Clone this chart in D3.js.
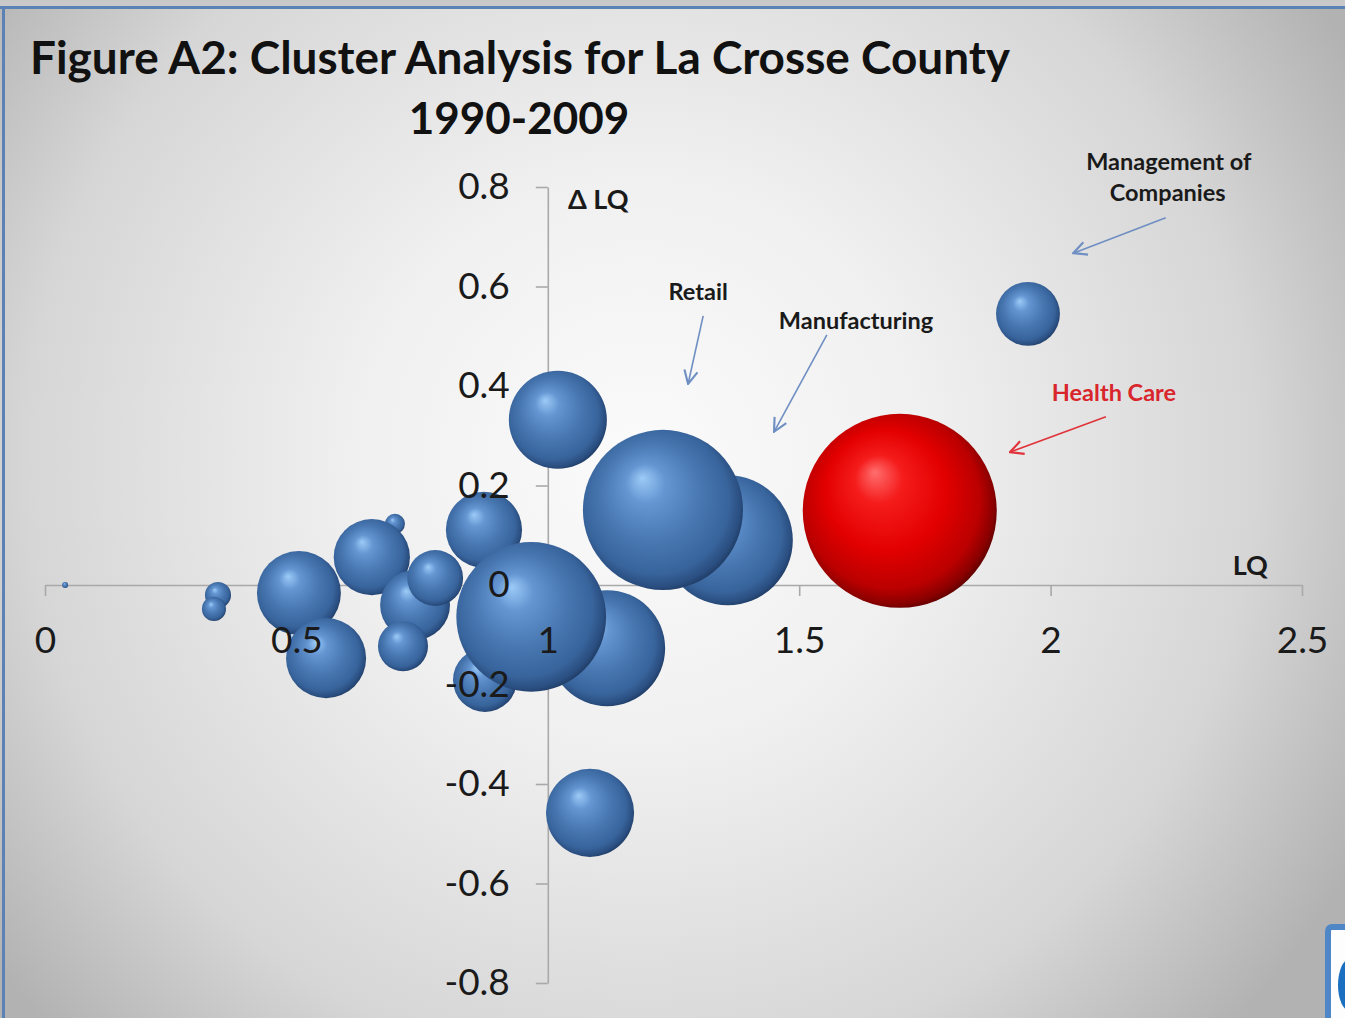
<!DOCTYPE html>
<html lang="en">
  <head>
    <meta charset="UTF-8" />
    <title>Figure A2: Cluster Analysis for La Crosse County</title>
    <script src="https://d3js.org/d3.v7.min.js"></script>
    <style>
      html, body { margin: 0; padding: 0; background: #c8c8c8; }
      svg { display: block; font-family: Lato, "Open Sans", sans-serif; }
    </style>
  </head>
  <body>
    <svg></svg>
    <script>
      let width = 1345,
        height = 1018;

      // bubbles: LQ (x), change in LQ (y), bubble size (area), colour
      let lq = [1.118, 0.875, 0.873, 0.967, 0.04, 0.344, 0.336, 0.505, 0.559, 0.696, 0.65, 0.736, 0.776, 0.712, 1.02, 1.358, 1.229, 1.70, 1.955, 1.084];
      let dlq = [-0.127, -0.191, 0.111, -0.064, 0.0, -0.02, -0.048, -0.016, -0.147, 0.123, 0.056, -0.04, 0.014, -0.123, 0.332, 0.09, 0.151, 0.149, 0.545, -0.458];
      let sizes = [3360, 1020, 1450, 5600, 9, 170, 145, 1760, 1600, 100, 1450, 1220, 780, 625, 2400, 4220, 6400, 9400, 1020, 1940];
      let colors = ["blue", "blue", "blue", "blue", "blue", "blue", "blue", "blue", "blue", "blue", "blue", "blue", "blue", "blue", "blue", "blue", "blue", "red", "blue", "blue"];

      let xTicks = [0, 0.5, 1, 1.5, 2, 2.5];
      let yTicks = [-0.8, -0.6, -0.4, -0.2, 0, 0.2, 0.4, 0.6, 0.8];

      // annotations (data units)
      let noteText = ["Retail", "Manufacturing", "Management of", "Companies", "Health Care"];
      let noteX = [1.299, 1.613, 2.235, 2.233, 2.126];
      let noteY = [0.589, 0.531, 0.85, 0.788, 0.386];
      let noteColor = ["#1a1a1a", "#1a1a1a", "#1a1a1a", "#1a1a1a", "#d9252c"];
      let arrowFrom = [[1.309, 0.541], [1.555, 0.503], [2.229, 0.738], [2.11, 0.338]];
      let arrowTo = [[1.279, 0.404], [1.45, 0.308], [2.045, 0.667], [1.919, 0.267]];
      let arrowColor = ["#6f8fc2", "#6f8fc2", "#6f8fc2", "#e0333a"];

      let svg = d3.select("svg").attr("width", width).attr("height", height);
      let defs = svg.append("defs");

      let bg = defs
        .append("radialGradient")
        .attr("id", "bg")
        .attr("gradientUnits", "userSpaceOnUse")
        .attr("cx", 640)
        .attr("cy", 460)
        .attr("r", 820);
      [[0, "#fbfbfb"], [0.35, "#f0f0f0"], [0.75, "#d6d6d6"], [1, "#b2b2b2"]].forEach((s) =>
        bg.append("stop").attr("offset", s[0]).attr("stop-color", s[1])
      );

      function ball(id, stops) {
        let g = defs
          .append("radialGradient")
          .attr("id", id)
          .attr("cx", 0.47)
          .attr("cy", 0.47)
          .attr("r", 0.56)
          .attr("fx", 0.37)
          .attr("fy", 0.3);
        stops.forEach((s) => g.append("stop").attr("offset", s[0]).attr("stop-color", s[1]));
      }
      ball("blue", [[0, "#9ccbf7"], [0.22, "#6596d2"], [0.55, "#4877b1"], [0.82, "#38649c"], [0.93, "#2a4e80"], [1, "#1b355a"]]);
      ball("red", [[0, "#ff6e6e"], [0.22, "#f51c1c"], [0.55, "#e30000"], [0.82, "#bb0000"], [0.93, "#8a0000"], [1, "#4e0000"]]);

      arrowColor.forEach((c, i) => {
        defs
          .append("marker")
          .attr("id", "arr" + i)
          .attr("viewBox", "0 0 12 12")
          .attr("refX", 11)
          .attr("refY", 6)
          .attr("markerWidth", 16)
          .attr("markerHeight", 16)
          .attr("markerUnits", "userSpaceOnUse")
          .attr("orient", "auto")
          .append("path")
          .attr("d", "M1,1 L11,6 L1,11")
          .attr("fill", "none")
          .attr("stroke", c)
          .attr("stroke-width", 1.6);
      });

      // background + frame
      svg.append("rect").attr("width", width).attr("height", height).attr("fill", "url(#bg)");
      svg.append("rect").attr("x", 0).attr("y", 0).attr("width", width).attr("height", 6).attr("fill", "#c9c9c9");
      svg.append("rect").attr("x", 0).attr("y", 6).attr("width", width).attr("height", 3).attr("fill", "#5a82b4");
      svg.append("rect").attr("x", 2).attr("y", 6).attr("width", 3).attr("height", height).attr("fill", "#5a82b4");

      // titles
      svg
        .append("text")
        .attr("x", 30)
        .attr("y", 74)
        .attr("font-size", 46)
        .attr("font-weight", "bold")
        .attr("fill", "#111")
        .attr("textLength", 980)
        .attr("lengthAdjust", "spacingAndGlyphs")
        .text("Figure A2: Cluster Analysis for La Crosse County");
      svg
        .append("text")
        .attr("x", 519)
        .attr("y", 134)
        .attr("text-anchor", "middle")
        .attr("font-size", 44)
        .attr("font-weight", "bold")
        .attr("fill", "#111")
        .text("1990-2009");

      let x = d3.scaleLinear().domain([0, 2.5]).range([45, 1302]);
      let y = d3.scaleLinear().domain([-0.8, 0.8]).range([983, 187]);
      let r = d3.scaleSqrt().domain([0, d3.max(sizes)]).range([0, 97]);

      // axis lines and ticks (behind bubbles)
      svg
        .append("g")
        .attr("transform", "translate(0," + y(0) + ")")
        .call(d3.axisBottom(x).tickValues(xTicks).tickSize(11).tickSizeOuter(0).tickFormat(""));
      svg
        .append("g")
        .attr("transform", "translate(" + x(1) + ",0)")
        .call(d3.axisLeft(y).tickValues(yTicks).tickSize(12).tickSizeOuter(0).tickFormat(""));
      svg.selectAll(".domain, .tick line").attr("stroke", "#a9a9a9").attr("stroke-width", 1.6);

      // bubbles
      let data = lq.map((d, i) => ({ x: d, y: dlq[i], s: sizes[i], c: colors[i] }));
      svg
        .append("g")
        .selectAll("circle")
        .data(data)
        .enter()
        .append("circle")
        .attr("cx", (d) => x(d.x))
        .attr("cy", (d) => y(d.y))
        .attr("r", (d) => Math.max(r(d.s), 3))
        .attr("fill", (d) => "url(#" + d.c + ")");

      // tick labels (drawn over bubbles)
      svg
        .append("g")
        .attr("transform", "translate(0," + y(0) + ")")
        .call(d3.axisBottom(x).tickValues(xTicks).tickSize(0).tickPadding(42).tickFormat(d3.format("")))
        .call((g) => g.select(".domain").remove())
        .selectAll("text")
        .attr("font-size", 37)
        .attr("font-family", "Lato, sans-serif")
        .attr("fill", "#1a1a1a");
      svg
        .append("g")
        .attr("transform", "translate(" + x(1) + ",0)")
        .call(d3.axisLeft(y).tickValues(yTicks).tickSize(0).tickPadding(38).tickFormat(d3.format("")))
        .call((g) => g.select(".domain").remove())
        .selectAll("text")
        .attr("font-size", 37)
        .attr("font-family", "Lato, sans-serif")
        .attr("fill", "#1a1a1a")
        .text((d) => (d < 0 ? "-" : "") + d3.format("")(Math.abs(d)));

      // axis titles
      svg
        .append("text")
        .attr("x", x(1.04))
        .attr("y", y(0.774))
        .attr("dy", "0.35em")
        .attr("font-size", 27)
        .attr("font-weight", "bold")
        .attr("fill", "#1a1a1a")
        .text("Δ LQ");
      svg
        .append("text")
        .attr("x", x(2.397))
        .attr("y", y(0.04))
        .attr("dy", "0.35em")
        .attr("text-anchor", "middle")
        .attr("font-size", 27)
        .attr("font-weight", "bold")
        .attr("fill", "#1a1a1a")
        .text("LQ");

      // annotations
      svg
        .append("g")
        .selectAll("text")
        .data(noteText)
        .enter()
        .append("text")
        .attr("x", (d, i) => x(noteX[i]))
        .attr("y", (d, i) => y(noteY[i]))
        .attr("dy", "0.35em")
        .attr("text-anchor", "middle")
        .attr("font-size", 23.5)
        .attr("font-weight", "bold")
        .attr("fill", (d, i) => noteColor[i])
        .text((d) => d);
      svg
        .append("g")
        .selectAll("line")
        .data(arrowFrom)
        .enter()
        .append("line")
        .attr("x1", (d) => x(d[0]))
        .attr("y1", (d) => y(d[1]))
        .attr("x2", (d, i) => x(arrowTo[i][0]))
        .attr("y2", (d, i) => y(arrowTo[i][1]))
        .attr("stroke", (d, i) => arrowColor[i])
        .attr("stroke-width", 1.6)
        .attr("marker-end", (d, i) => "url(#arr" + i + ")");

      // corner widget in the screenshot
      svg.append("rect").attr("x", 1328).attr("y", 927).attr("width", 40).attr("height", 110).attr("rx", 4).attr("fill", "#fdfdfd").attr("stroke", "#4f86c6").attr("stroke-width", 6);
      svg.append("ellipse").attr("cx", 1350).attr("cy", 985).attr("rx", 12).attr("ry", 26).attr("fill", "#1a6fc0");
    </script>
  </body>
</html>
